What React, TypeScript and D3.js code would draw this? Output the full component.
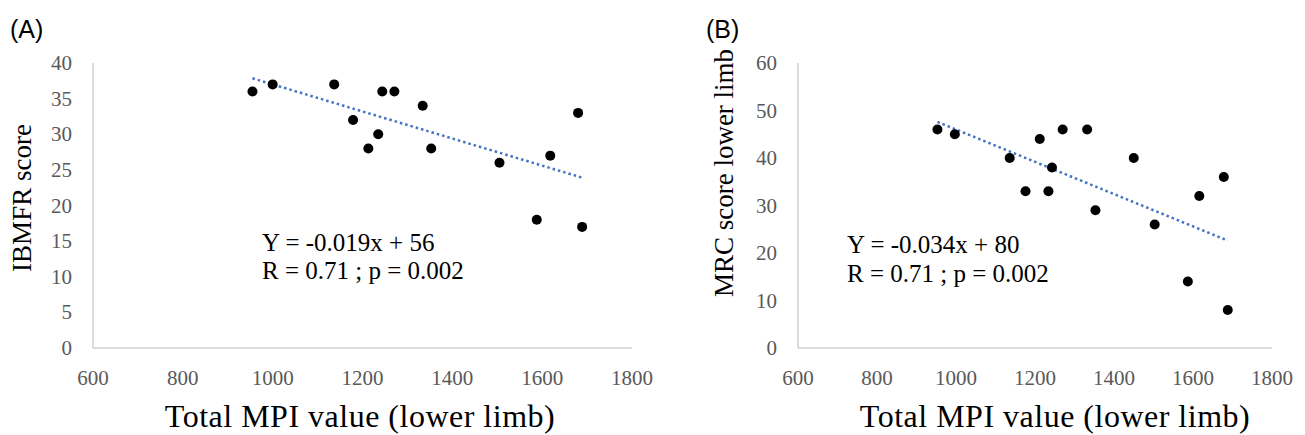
import React, { useEffect, useRef } from 'react';
import * as d3 from 'd3';

// shared x ticks
const xTicks = [600, 800, 1000, 1200, 1400, 1600, 1800];

// panel A: IBMFR score
const aMpi = [955, 1000, 1137, 1244, 1271, 1334, 1179, 1235, 1213, 1353, 1680, 1505, 1618, 1588, 1689];
const aScore = [36, 37, 37, 36, 36, 34, 32, 30, 28, 28, 33, 26, 27, 18, 17];
const aYTicks = [0, 5, 10, 15, 20, 25, 30, 35, 40];
const aFit = { slope: -0.019, intercept: 56 };
const aEquation = ['Y = -0.019x + 56', 'R = 0.71 ; p = 0.002'];

// panel B: MRC score lower limb
const bMpi = [953, 997, 1136, 1212, 1270, 1332, 1243, 1176, 1234, 1450, 1353, 1678, 1616, 1503, 1587, 1688];
const bScore = [46, 45, 40, 44, 46, 46, 38, 33, 33, 40, 29, 36, 32, 26, 14, 8];
const bYTicks = [0, 10, 20, 30, 40, 50, 60];
const bFit = { slope: -0.034, intercept: 80 };
const bEquation = ['Y = -0.034x + 80', 'R = 0.71 ; p = 0.002'];

const serif = '"Liberation Serif", "Times New Roman", serif';

const panels = [
  {
    tag: '(A)', tagX: 10, left: 93, right: 632, yMax: 40,
    xs: aMpi, ys: aScore, yTicks: aYTicks, fit: aFit, eq: aEquation,
    xTitleX: 360,
    yTitle: 'IBMFR score', yTitleX: 22, yTitleY: 198,
    eqX: 262, eqY: [251, 279],
  },
  {
    tag: '(B)', tagX: 706, left: 798, right: 1272, yMax: 60,
    xs: bMpi, ys: bScore, yTicks: bYTicks, fit: bFit, eq: bEquation,
    xTitleX: 1055,
    yTitle: 'MRC score lower limb', yTitleX: 724, yTitleY: 173,
    eqX: 847, eqY: [253, 282],
  },
];

const App = () => {
  const svgRef = useRef(null);

  useEffect(() => {
    const svg = d3.select(svgRef.current);
    svg.selectAll('*').remove();

    const top = 63;
    const bottom = 348;

    panels.forEach(p => {
      const x = d3.scaleLinear().domain([600, 1800]).range([p.left, p.right]);
      const y = d3.scaleLinear().domain([0, p.yMax]).range([bottom, top]);
      const g = svg.append('g');

      // panel tag
      g.append('text')
        .attr('x', p.tagX).attr('y', 38)
        .attr('font-family', '"Liberation Sans", Arial, sans-serif')
        .attr('font-size', 25)
        .attr('fill', '#000')
        .text(p.tag);

      // axis lines
      g.append('line')
        .attr('x1', x(600)).attr('x2', x(600))
        .attr('y1', y(p.yMax)).attr('y2', y(0))
        .attr('stroke', '#d0d0d0').attr('stroke-width', 1.5);
      g.append('line')
        .attr('x1', x(600)).attr('x2', x(1800))
        .attr('y1', y(0)).attr('y2', y(0))
        .attr('stroke', '#d0d0d0').attr('stroke-width', 1.5);

      // y tick labels
      g.selectAll('.yt')
        .data(p.yTicks)
        .enter()
        .append('text')
        .attr('x', x(600) - 21)
        .attr('y', d => y(d) + 7)
        .attr('text-anchor', 'end')
        .attr('font-family', serif)
        .attr('font-size', 21)
        .attr('fill', '#595959')
        .text(d => d);

      // x tick labels
      g.selectAll('.xt')
        .data(xTicks)
        .enter()
        .append('text')
        .attr('x', d => x(d))
        .attr('y', 385)
        .attr('text-anchor', 'middle')
        .attr('font-family', serif)
        .attr('font-size', 21)
        .attr('fill', '#595959')
        .text(d => d);

      // axis titles
      g.append('text')
        .attr('x', p.xTitleX)
        .attr('y', 427)
        .attr('text-anchor', 'middle')
        .attr('font-family', serif)
        .attr('font-size', 32)
        .attr('letter-spacing', 0.5)
        .attr('fill', '#000')
        .text('Total MPI value (lower limb)');

      g.append('text')
        .attr('transform', `translate(${p.yTitleX + 9},${p.yTitleY}) rotate(-90)`)
        .attr('text-anchor', 'middle')
        .attr('font-family', serif)
        .attr('font-size', 27)
        .attr('fill', '#000')
        .text(p.yTitle);

      // trend line over the data range
      const [x0, x1] = d3.extent(p.xs);
      g.append('line')
        .attr('x1', x(x0)).attr('y1', y(p.fit.slope * x0 + p.fit.intercept))
        .attr('x2', x(x1)).attr('y2', y(p.fit.slope * x1 + p.fit.intercept))
        .attr('stroke', '#4472C4')
        .attr('stroke-width', 2.5)
        .attr('stroke-dasharray', '2.5 3');

      // points
      g.selectAll('circle')
        .data(p.xs.map((v, i) => [v, p.ys[i]]))
        .enter()
        .append('circle')
        .attr('cx', d => x(d[0]))
        .attr('cy', d => y(d[1]))
        .attr('r', 5)
        .attr('fill', '#000');

      // equation text
      p.eq.forEach((line, i) => {
        g.append('text')
          .attr('x', p.eqX)
          .attr('y', p.eqY[i])
          .attr('font-family', serif)
          .attr('font-size', 25)
          .attr('fill', '#000')
          .text(line);
      });
    });
  }, []);

  return (
    <svg
      ref={svgRef}
      width={1305}
      height={435}
      style={{ position: 'absolute', left: 0, top: 0, background: '#fff' }}
    />
  );
};

export default App;
